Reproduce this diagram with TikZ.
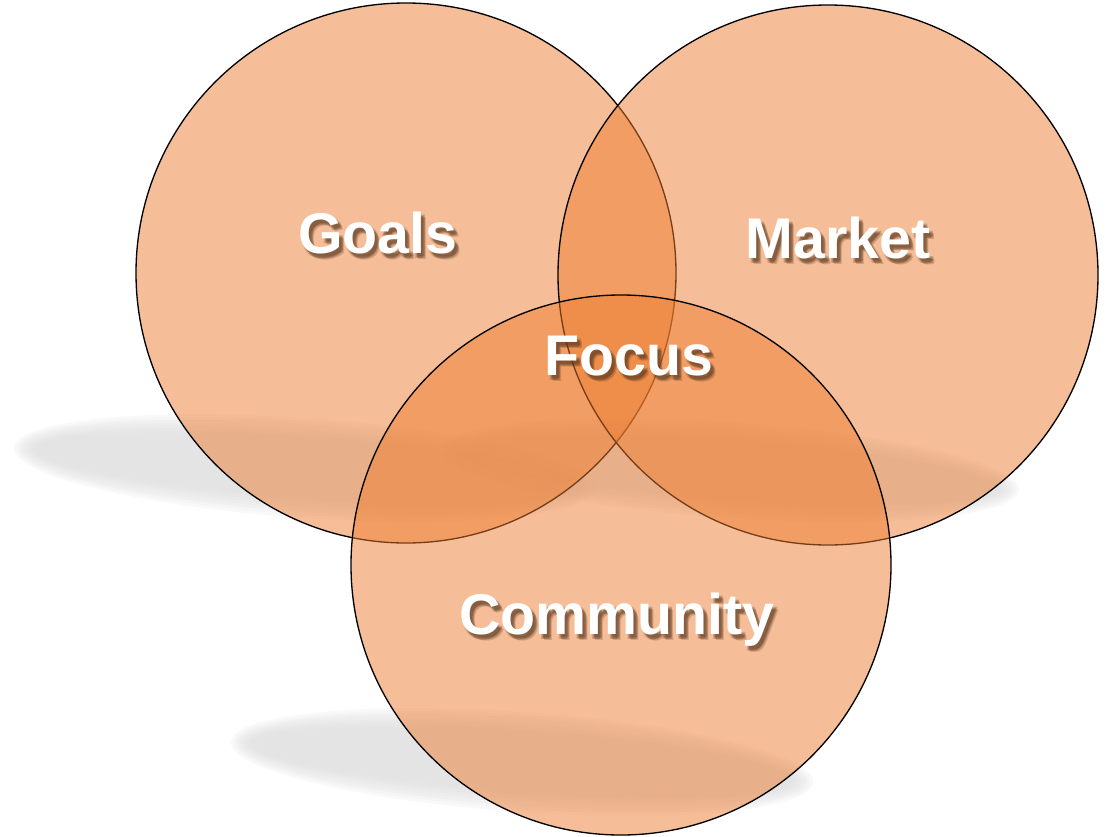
\documentclass[tikz,border=0pt]{standalone}
\usepackage{fontspec}
\newfontfamily\vennfont{Liberation Sans}

\begin{document}
\begin{tikzpicture}
    [x=0.75pt,y=-0.75pt,
    set circle/.style={circle, draw=black, line width=1pt, fill=setorange, fill opacity=0.5, draw opacity=1, minimum size=405pt, inner sep=0pt},
    soft shadow/.style={fill=black!15, opacity=0.15},
    set label/.style={text=white, font=\vennfont\bfseries\fontsize{43}{43}\selectfont, anchor=base, inner sep=0pt},
    label shadow/.style={text=shadowbrown, text opacity=0.22, font=\vennfont\bfseries\fontsize{43}{43}\selectfont, anchor=base, inner sep=0pt},
    ]
    \definecolor{setorange}{RGB}{237,125,49}
    \definecolor{shadowbrown}{RGB}{90,55,30}
    \useasboundingbox (0,0) rectangle (1111,836);

    %shadows
    \foreach \k in {0,...,7}{
        \fill[soft shadow, rotate around={-4:(305,468)}] (305,468) ellipse ({292-3*\k} and {50-3*\k});
        \fill[soft shadow, rotate around={-4:(730,470)}] (730,470) ellipse ({290-3*\k} and {48-3*\k});
        \fill[soft shadow, rotate around={-4:(522,762)}] (522,762) ellipse ({292-3*\k} and {50-3*\k});
    }

    %sets
    \node[set circle] (goals) at (406,273) {};
    \node[set circle] (market) at (828,275) {};
    \node[set circle] (community) at (621,565) {};

    %labels
    \foreach \name/\txt/\px/\py in {goals/Goals/378/253, market/Market/838/258, focus/Focus/629/375, community/Community/617/634}{
        \foreach \dx/\dy in {3/4,4/5,5/6,2/5,4/3}{
            \node[label shadow] at (\px+\dx,\py+\dy) {\txt};
        }
        \node[set label] (\name Label) at (\px,\py) {\txt};
    }

\end{tikzpicture}
\end{document}
